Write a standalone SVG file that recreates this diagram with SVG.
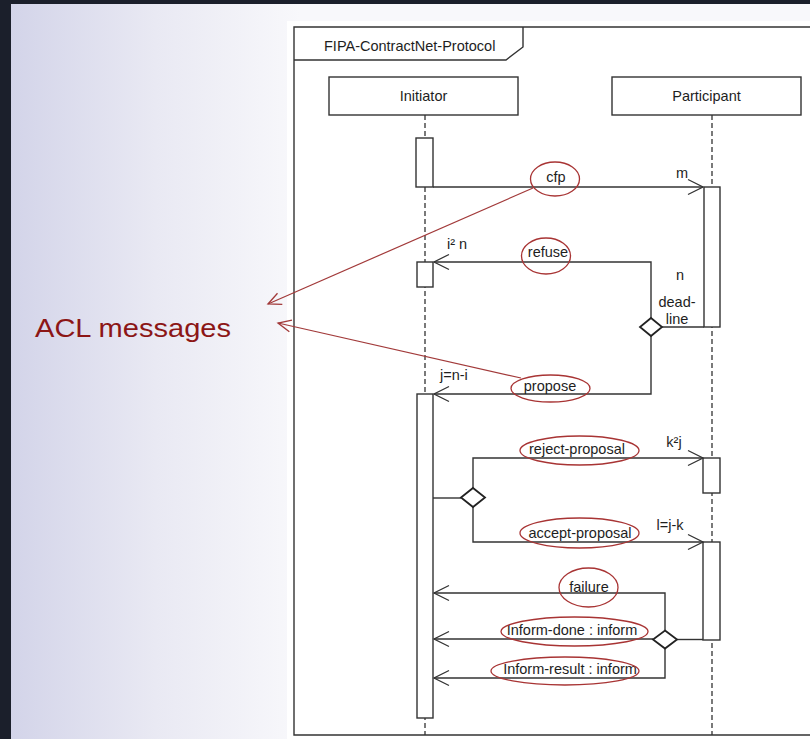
<svg xmlns="http://www.w3.org/2000/svg" width="810" height="739" viewBox="0 0 810 739">
<defs>
<linearGradient id="bg" gradientUnits="userSpaceOnUse" x1="11" y1="0" x2="300" y2="0">
<stop offset="0" stop-color="#d3d4e9"/>
<stop offset="0.5" stop-color="#e9e9f3"/>
<stop offset="1" stop-color="#f8f8fb"/>
</linearGradient>
<marker id="ah" viewBox="-17 -9 19 18" refX="0" refY="0" markerWidth="19" markerHeight="18" markerUnits="userSpaceOnUse" orient="auto">
<path d="M-15,-7.5 L0,0 L-15,7.5" fill="none" stroke="#333" stroke-width="1.3"/>
</marker>
<marker id="rah" viewBox="-15 -8 17 16" refX="0" refY="0" markerWidth="17" markerHeight="16" markerUnits="userSpaceOnUse" orient="auto">
<path d="M-13,-6 L0,0 L-13,6" fill="none" stroke="#a23a3a" stroke-width="1.3"/>
</marker>
</defs>
<style>
.t{font-family:"Liberation Sans",Arial,sans-serif;font-size:14.5px;fill:#1e1e1e}
.c{text-anchor:middle}
.box{fill:#fff;stroke:#333;stroke-width:1.4}
.ln{fill:none;stroke:#333;stroke-width:1.4}
.life{stroke:#333;stroke-width:1.3;stroke-dasharray:5 3}
.ell{fill:none;stroke:#a83434;stroke-width:1.3}
.red{fill:none;stroke:#a23a3a;stroke-width:1.2}
.dia{fill:#fff;stroke:#222;stroke-width:1.8}
</style>
<rect x="0" y="0" width="810" height="739" fill="url(#bg)"/>
<rect x="0" y="0" width="11" height="739" fill="#1b1f2b"/>
<rect x="0" y="0" width="810" height="4" fill="#1b1f2b"/>
<rect x="287" y="21" width="523" height="718" fill="#ffffff"/>

<g id="frame">
<path class="ln" d="M820,27 H294 V735 H820"/>
<path class="ln" d="M294,60 H506 L523,47 V27"/>
<text class="t" x="324" y="50.5">FIPA-ContractNet-Protocol</text>
</g>

<g id="lifelines">
<line class="life" x1="425" y1="115" x2="425" y2="735"/>
<line class="life" x1="712" y1="115" x2="712" y2="735"/>
</g>

<g id="initiator">
<rect class="box" x="329" y="77" width="189" height="38"/>
<text class="t c" x="423.5" y="101">Initiator</text>
</g>
<g id="participant">
<rect class="box" x="612" y="77" width="189" height="38"/>
<text class="t c" x="706.5" y="101">Participant</text>
</g>

<g id="activations">
<rect id="i-act1" class="box" x="416" y="138" width="17" height="49"/>
<rect id="i-act2" class="box" x="417" y="262" width="16" height="25"/>
<rect id="i-act3" class="box" x="417" y="394" width="16" height="324"/>
<rect id="p-act1" class="box" x="704" y="187" width="16" height="140"/>
<rect id="p-act2" class="box" x="703" y="458" width="17" height="35"/>
<rect id="p-act3" class="box" x="703" y="542" width="17" height="98"/>
</g>

<g id="connectors">
<path class="ln" d="M433,187 H703" marker-end="url(#ah)"/>
<path class="ln" d="M651,318 V262 H434" marker-end="url(#ah)"/>
<path class="ln" d="M661,327 H704"/>
<path class="ln" d="M651,336 V394 H434" marker-end="url(#ah)"/>
<path class="ln" d="M433,498 H461"/>
<path class="ln" d="M473,488 V458 H703" marker-end="url(#ah)"/>
<path class="ln" d="M473,507 V542 H703" marker-end="url(#ah)"/>
<path class="ln" d="M665,631 V593 H434" marker-end="url(#ah)"/>
<path class="ln" d="M653,639 H434" marker-end="url(#ah)"/>
<path class="ln" d="M677,639.5 H703"/>
<path class="ln" d="M665,648 V678 H434" marker-end="url(#ah)"/>
</g>

<g id="decisions">
<polygon id="d1" class="dia" points="651,318 662,327 651,336 640,327"/>
<polygon id="d2" class="dia" points="473,488 485,497.5 473,507 461,497.5"/>
<polygon id="d3" class="dia" points="665,630.5 677,639.5 665,648.5 653,639.5"/>
</g>

<g id="labels">
<text class="t c" x="556" y="182">cfp</text>
<text class="t c" x="682" y="178">m</text>
<text class="t" x="447" y="249">i² n</text>
<text class="t c" x="548" y="257">refuse</text>
<text class="t c" x="680" y="280">n</text>
<text class="t c" x="677" y="307">dead-</text>
<text class="t c" x="677" y="324">line</text>
<text class="t" x="440" y="380">j=n-i</text>
<text class="t c" x="550" y="391">propose</text>
<text class="t c" x="674" y="447">k²j</text>
<text class="t c" x="577" y="454">reject-proposal</text>
<text class="t c" x="670" y="530">l=j-k</text>
<text class="t c" x="580" y="538">accept-proposal</text>
<text class="t c" x="589" y="592">failure</text>
<text class="t c" x="572" y="635">Inform-done : inform</text>
<text class="t c" x="570" y="674">Inform-result : inform</text>
</g>

<g id="highlights">
<ellipse class="ell" cx="555" cy="179" rx="24.5" ry="17"/>
<ellipse class="ell" cx="546" cy="256" rx="24.5" ry="18"/>
<ellipse class="ell" cx="550.5" cy="388.5" rx="39.5" ry="13.5"/>
<ellipse class="ell" cx="579.5" cy="450.5" rx="59.5" ry="14.5"/>
<ellipse class="ell" cx="579.5" cy="533" rx="59.5" ry="15"/>
<ellipse class="ell" cx="588.5" cy="587.5" rx="29.5" ry="19.5"/>
<ellipse class="ell" cx="574.5" cy="631.5" rx="73.5" ry="14.5"/>
<ellipse class="ell" cx="565" cy="671" rx="74" ry="14"/>
</g>

<g id="acl">
<text x="35" y="337" textLength="196" lengthAdjust="spacingAndGlyphs" style="font-family:'Liberation Sans',Arial,sans-serif;font-size:25.5px;fill:#8c1616">ACL messages</text>
<line class="red" x1="533" y1="188" x2="268" y2="304" marker-end="url(#rah)"/>
<line class="red" x1="521" y1="378" x2="278" y2="323" marker-end="url(#rah)"/>
</g>
</svg>
